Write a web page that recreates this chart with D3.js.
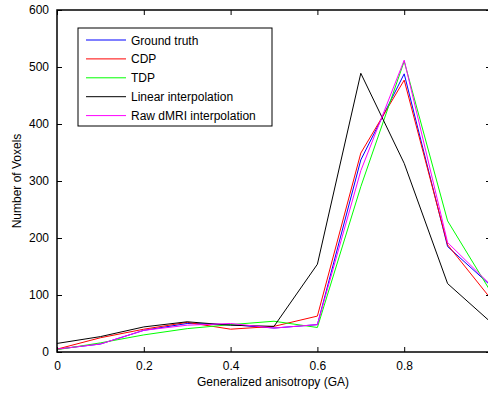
<!DOCTYPE html>
<html><head><meta charset="utf-8">
<script src="https://cdn.jsdelivr.net/npm/d3@7"></script>
<style>body{margin:0;background:#fff}svg{display:block;font-family:"Liberation Sans",Arial,sans-serif}</style>
</head><body>
<svg id="c" width="488" height="393"></svg>
<script>
const gaValues = [0, 0.1, 0.2, 0.3, 0.4, 0.5, 0.6, 0.7, 0.8, 0.9, 1.0];
const groundTruth = [5, 14, 38, 50, 48, 42, 48, 337, 488, 185, 116];
const cdp = [5, 25, 40, 52, 40, 45, 63, 349, 477, 188, 93];
const tdp = [4, 16, 30, 41, 48, 54, 43, 290, 510, 230, 105];
const linearInterp = [15, 27, 44, 53, 47, 45, 154, 489, 331, 120, 52];
const rawInterp = [5, 14, 38, 47, 50, 42, 48, 318, 512, 192, 117];
const seriesNames = ["Ground truth", "CDP", "TDP", "Linear interpolation", "Raw dMRI interpolation"];
const seriesColors = ["#0000ff", "#ff0000", "#00ff00", "#000000", "#ff00ff"];
const xTicks = [0, 0.2, 0.4, 0.6, 0.8];
const yTicks = [0, 100, 200, 300, 400, 500, 600];

const series = [groundTruth, cdp, tdp, linearInterp, rawInterp];
const svg = d3.select("#c");
const L = 57, R = 491, T = 10, B = 352;
const x = d3.scaleLinear().domain([0, 1]).range([L, R]);
const y = d3.scaleLinear().domain([0, 600]).range([B, T]);

const line = d3.line().x((d, i) => x(gaValues[i])).y(d => y(d));
series.forEach((s, k) => {
  svg.append("path").datum(s).attr("d", line).attr("fill", "none")
    .attr("stroke", seriesColors[k]).attr("stroke-width", 1);
});

// axes
const ax = svg.append("g").attr("transform", `translate(0,${B})`).call(d3.axisBottom(x).tickValues(xTicks).tickSize(-5).tickPadding(9).tickFormat(d3.format("")));
const axTop = svg.append("g").attr("transform", `translate(0,${T})`).call(d3.axisTop(x).tickValues(xTicks).tickSize(-5).tickFormat(""));
const ay = svg.append("g").attr("transform", `translate(${L},0)`).call(d3.axisLeft(y).tickValues(yTicks).tickSize(-5).tickPadding(8));
const ayR = svg.append("g").attr("transform", `translate(${R},0)`).call(d3.axisRight(y).tickValues(yTicks).tickSize(-5).tickFormat(""));
[ax, axTop, ay, ayR].forEach(g => {
  g.select(".domain").remove();
  g.selectAll("line").attr("stroke", "#000").attr("stroke-width", 1);
  g.selectAll("text").attr("font-size", 12).attr("fill", "#000").attr("font-family", "Liberation Sans, Arial, sans-serif");
});
svg.append("rect").attr("x", L).attr("y", T).attr("width", R - L).attr("height", B - T)
  .attr("fill", "none").attr("stroke", "#000").attr("stroke-width", 1.5);

// labels
svg.append("text").attr("x", (L + R) / 2 - 1).attr("y", 386).attr("text-anchor", "middle")
  .attr("font-size", 12).text("Generalized anisotropy (GA)");
svg.append("text").attr("transform", `translate(21,${(T + B) / 2}) rotate(-90)`).attr("text-anchor", "middle")
  .attr("font-size", 12).text("Number of Voxels");

// legend
const lg = svg.append("g");
lg.append("rect").attr("x", 78).attr("y", 28).attr("width", 194).attr("height", 98)
  .attr("fill", "#fff").attr("stroke", "#000").attr("stroke-width", 1);
seriesNames.forEach((n, k) => {
  const yy = 40 + k * 18.9;
  lg.append("line").attr("x1", 86).attr("x2", 126).attr("y1", yy).attr("y2", yy)
    .attr("stroke", seriesColors[k]).attr("stroke-width", 1);
  lg.append("text").attr("x", 131).attr("y", yy + 4.5).attr("font-size", 12).text(n);
});
</script>
</body></html>
